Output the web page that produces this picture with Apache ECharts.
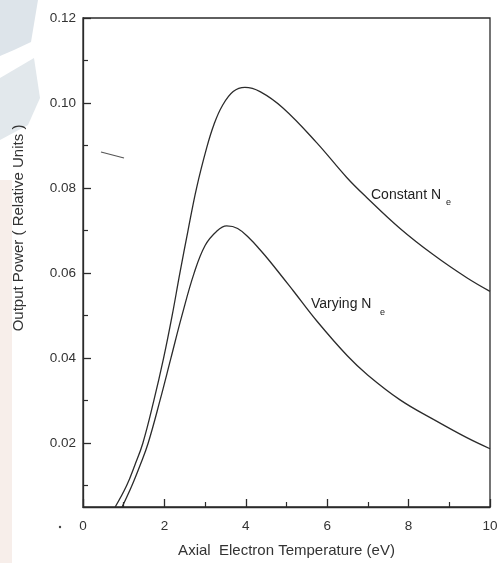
<!DOCTYPE html>
<html>
<head>
<meta charset="utf-8">
<script src="https://cdn.jsdelivr.net/npm/echarts@6/dist/echarts.min.js"></script>
<style>
	html, body { margin: 0; padding: 0; background: #fff; }
	#chart { width: 502px; height: 563px; }
</style>
</head>
<body>
<div id="chart"></div>
<script>
// axial electron temperature (eV) / output power
var constX = [0.79, 1.07, 1.28, 1.47, 1.74, 1.98, 2.19, 2.38, 2.58, 2.79, 3.04, 3.22, 3.42, 3.69, 3.98, 4.35, 4.92, 5.74, 6.48, 6.97, 7.79, 8.61, 9.43, 10];
var constY = [0.005, 0.010, 0.015, 0.020, 0.030, 0.040, 0.050, 0.060, 0.070, 0.080, 0.0895, 0.0950, 0.0993, 0.1027, 0.1037, 0.1027, 0.0988, 0.0907, 0.0825, 0.0778, 0.0705, 0.0643, 0.0589, 0.0557];

var varyX = [0.96, 1.2, 1.41, 1.6, 1.89, 2.16, 2.43, 2.73, 3.0, 3.28, 3.53, 3.8, 4.10, 4.35, 4.59, 5.17, 5.74, 6.5, 7.0, 7.79, 8.61, 9.43, 10];
var varyY = [0.005, 0.010, 0.015, 0.020, 0.030, 0.040, 0.050, 0.060, 0.0665, 0.0698, 0.0711, 0.0705, 0.0681, 0.0655, 0.0628, 0.0558, 0.0488, 0.0405, 0.0360, 0.0302, 0.0256, 0.0213, 0.0187];

var xLabels = [0, 2, 4, 6, 8, 10];
var yMajor = [0.02, 0.04, 0.06, 0.08, 0.10, 0.12];
var yMinor = [0.01, 0.03, 0.05, 0.07, 0.09, 0.11];

function pairs(xs, ys) {
	return xs.map(function(x, i){ return [x, ys[i]]; });
}

var ink = '#2b2b2b';
var font = 'Liberation Sans, Arial, sans-serif';

var ec = echarts.init(document.getElementById('chart'));
var option = {
	backgroundColor: '#fff',
	animation: false,
	grid: {
		left: 83, right: 12, top: 18, bottom: 51,
		show: true,
		borderColor: ink,
		borderWidth: 1.3
	},
	xAxis: {
		type: 'value',
		min: 0, max: 10, interval: 2,
		axisLine: { lineStyle: { color: ink, width: 1.3 } },
		axisTick: { inside: true, length: 8, lineStyle: { color: ink, width: 1.3 } },
		minorTick: { show: true, splitNumber: 2, length: 5, lineStyle: { color: ink, width: 1.2 } },
		splitLine: { show: false },
		axisLabel: { color: '#333', fontSize: 13.5, fontFamily: font, margin: 12,
			customValues: xLabels },
		name: 'Axial  Electron Temperature (eV)',
		nameLocation: 'middle',
		nameGap: 36,
		nameTextStyle: { color: '#333', fontSize: 15, fontFamily: font }
	},
	yAxis: [
		{
			type: 'value',
			min: 0.005, max: 0.12,
			axisLine: { show: true, lineStyle: { color: ink, width: 1.3 } },
			axisTick: { show: true, inside: true, length: 8, customValues: yMajor,
				lineStyle: { color: ink, width: 1.3 } },
			splitLine: { show: false },
			axisLabel: { color: '#333', fontSize: 13.5, fontFamily: font, margin: 7,
				customValues: yMajor,
				formatter: function(v){ return v.toFixed(2); } }
		},
		{
			type: 'value',
			position: 'left',
			offset: 0,
			alignTicks: false,
			min: 0.005, max: 0.12,
			axisLine: { show: false },
			axisTick: { show: true, inside: true, length: 5, customValues: yMinor,
				lineStyle: { color: ink, width: 1.2 } },
			splitLine: { show: false },
			axisLabel: { show: false }
		}
	],
	series: [
		{
			name: 'Constant Ne',
			type: 'line',
			data: pairs(constX, constY),
			smooth: 0.4,
			showSymbol: false,
			lineStyle: { color: ink, width: 1.3 }
		},
		{
			name: 'Varying Ne',
			type: 'line',
			data: pairs(varyX, varyY),
			smooth: 0.4,
			showSymbol: false,
			lineStyle: { color: ink, width: 1.3 }
		}
	],
	graphic: [
		// faded scan marks along the left edge
		{ type: 'polygon', z: -10, shape: { points: [[0,0],[38,0],[31,42],[14,50],[0,56]] },
			style: { fill: '#dde4ea' } },
		{ type: 'polygon', z: -10, shape: { points: [[0,78],[34,58],[40,98],[28,125],[0,140]] },
			style: { fill: '#e2e8ec' } },
		{ type: 'rect', z: -10, shape: { x: 0, y: 180, width: 12, height: 383 },
			style: { fill: '#f7eeea' } },
		{ type: 'line', shape: { x1: 101, y1: 152, x2: 124, y2: 158 },
			style: { stroke: '#555', lineWidth: 1.2 } },
		{ type: 'circle', shape: { cx: 60, cy: 527, r: 1.2 }, style: { fill: '#444' } },
		// y-axis title
		{ type: 'text', x: 19, y: 228, rotation: Math.PI / 2,
			style: { text: 'Output Power ( Relative Units )', fill: '#333', fontSize: 15,
				fontFamily: font, align: 'center', verticalAlign: 'middle' } },
		// curve labels
		{ type: 'text', x: 371, y: 195,
			style: { text: 'Constant N', fill: '#222', fontSize: 14, fontFamily: font,
				align: 'left', verticalAlign: 'middle' } },
		{ type: 'text', x: 446, y: 203,
			style: { text: 'e', fill: '#222', fontSize: 9, fontFamily: font,
				align: 'left', verticalAlign: 'middle' } },
		{ type: 'text', x: 311, y: 304,
			style: { text: 'Varying N', fill: '#222', fontSize: 14, fontFamily: font,
				align: 'left', verticalAlign: 'middle' } },
		{ type: 'text', x: 380, y: 313,
			style: { text: 'e', fill: '#222', fontSize: 9, fontFamily: font,
				align: 'left', verticalAlign: 'middle' } }
	]
};
ec.setOption(option);
</script>
</body>
</html>
